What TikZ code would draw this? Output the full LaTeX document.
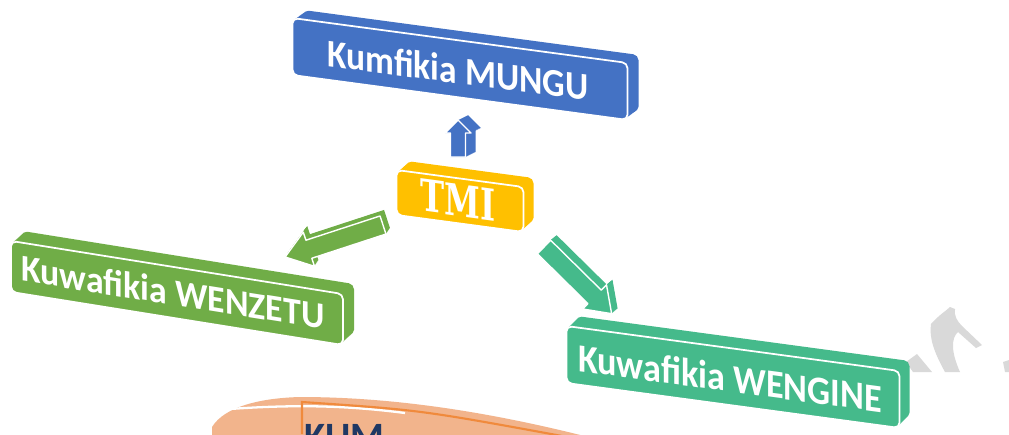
\documentclass[tikz,border=0pt]{standalone}
\usepackage{fontspec}
\setmainfont{Carlito}
\newfontfamily\tmifont{DejaVu Serif}
\definecolor{cblue}{HTML}{4472C4}
\definecolor{cgold}{HTML}{FFC000}
\definecolor{cgreen}{HTML}{70AD47}
\definecolor{cteal}{HTML}{45BA8B}
\definecolor{cpeach}{HTML}{F2B48C}
\definecolor{corange}{HTML}{F08A3C}
\definecolor{cnavy}{HTML}{1F3864}
\definecolor{cgray}{HTML}{D9D9D9}

% 3D slab: name, cx, cy, w, h, slope, colour, depth dx, depth dy
\newcommand{\slab}[9]{%
  \foreach \t in {0.1,0.2,...,1.0}{%
    \begin{scope}[shift={(#2+\t*#8,#3+\t*(#9))}, yslant=#6]
      \fill[#7, rounded corners=3pt] (-#4/2,-#5/2) rectangle (#4/2,#5/2);
    \end{scope}}%
  \begin{scope}[shift={(#2,#3)}, yslant=#6]
    \filldraw[fill=#7, draw=white, line width=1pt, rounded corners=3pt] (-#4/2,-#5/2) rectangle (#4/2,#5/2);
    \coordinate (#1) at (0,0);
  \end{scope}}

% text on a slab: name, cx, cy, slope, content
\newcommand{\slabtext}[5]{%
  \begin{scope}[shift={(#2,#3)}, yslant=#4]
    \node[text=white, inner sep=0pt, transform shape] (#1) at (0,0) {#5};
  \end{scope}}

% 3D block arrow: name, tail x, tail y, angle, length, head length, shaft half, head half, colour; depth \adx \ady
\newcommand{\barrow}[9]{%
  \foreach \t in {0.1,0.2,...,1.0}{%
    \begin{scope}[shift={(#2+\t*\adx,#3+\t*(\ady))}, rotate=#4]
      \fill[#9] (0,-#7) -- (#5-#6,-#7) -- (#5-#6,-#8) -- (#5,0) -- (#5-#6,#8) -- (#5-#6,#7) -- (0,#7) -- cycle;
    \end{scope}}%
  \begin{scope}[shift={(#2,#3)}, rotate=#4]
    \filldraw[fill=#9, draw=white, line width=0.8pt, line join=round] (0,-#7) -- (#5-#6,-#7) -- (#5-#6,-#8) -- (#5,0) -- (#5-#6,#8) -- (#5-#6,#7) -- (0,#7) -- cycle;
    \coordinate (#1) at (#5,0);
  \end{scope}}

\begin{document}
\begin{tikzpicture}[x=0.02cm, y=-0.02cm]
\useasboundingbox (0,0) rectangle (1009,434);
\clip (0,0) rectangle (1009,434);
\fill[white] (0,0) rectangle (1009,434);

% faint grey fragments at right
\fill[cgray] (931,324) .. controls (940,314) and (946,311) .. (950,307)
  -- (955,309) .. controls (954,316) and (957,321) .. (962,326) -- (982,345) -- (976,348)
  -- (958,332) .. controls (951,338) and (951,352) .. (960,372) -- (945,372)
  .. controls (934,352) and (929,338) .. (931,324) -- cycle;
\fill[cgray] (906,362) -- (917,354) -- (932,372) -- (913,372) -- cycle;
\fill[cgray] (1003,362) -- (1009,360) -- (1009,372) -- (1005,372) -- cycle;

% bottom orange fragment
\fill[cpeach] (212,427) .. controls (225,406) and (262,398) .. (300,397)
  .. controls (400,397) and (500,414) .. (600,440) -- (212,440) -- cycle;
\draw[white, line width=1.3pt] (230,409) .. controls (300,404) and (350,406) .. (405,413);
\draw[corange, line width=1.2pt] (302,434) -- (302,402) .. controls (420,410) .. (562,436);
\node[anchor=north west, inner sep=0pt, text=cnavy, font=\bfseries\fontsize{22}{22}\selectfont] (kum) at (304,424) {KUM};

% slabs
\slab{mungu}{460}{69}{335}{57}{-0.134}{cblue}{11}{-8}
\slabtext{tmungu}{458}{70}{-0.134}{\resizebox{5.22cm}{0.55cm}{\bfseries Kumfikia MUNGU}}

\slab{wenzetu}{177}{293}{332}{51}{-0.16}{cgreen}{11}{-10}
\slabtext{twenzetu}{173}{292}{-0.16}{\resizebox{6.06cm}{0.53cm}{\bfseries Kuwafikia WENZETU}}

\slab{wengine}{733}{377}{333}{57}{-0.135}{cteal}{10}{-10}
\slabtext{twengine}{730}{378}{-0.135}{\resizebox{6.08cm}{0.56cm}{\bfseries Kuwafikia WENGINE}}

% arrows
\def\adx{10}\def\ady{-5}
\barrow{aup}{458}{157}{90}{37}{13}{7.5}{13}{cblue}
\def\adx{4}\def\ady{-6}
\barrow{aleft}{383}{225}{-161.9}{103}{25}{9.5}{18}{cgreen}
\def\adx{6}\def\ady{-5}
\barrow{aright}{544}{247}{-44.6}{95}{24}{9.5}{17}{cteal}

% centre slab
\slab{tmi}{460}{201}{127}{45}{-0.134}{cgold}{10}{-9}
\slabtext{ttmi}{458}{200}{-0.134}{\resizebox{1.5cm}{0.64cm}{\tmifont\bfseries TMI}}
\end{tikzpicture}
\end{document}
